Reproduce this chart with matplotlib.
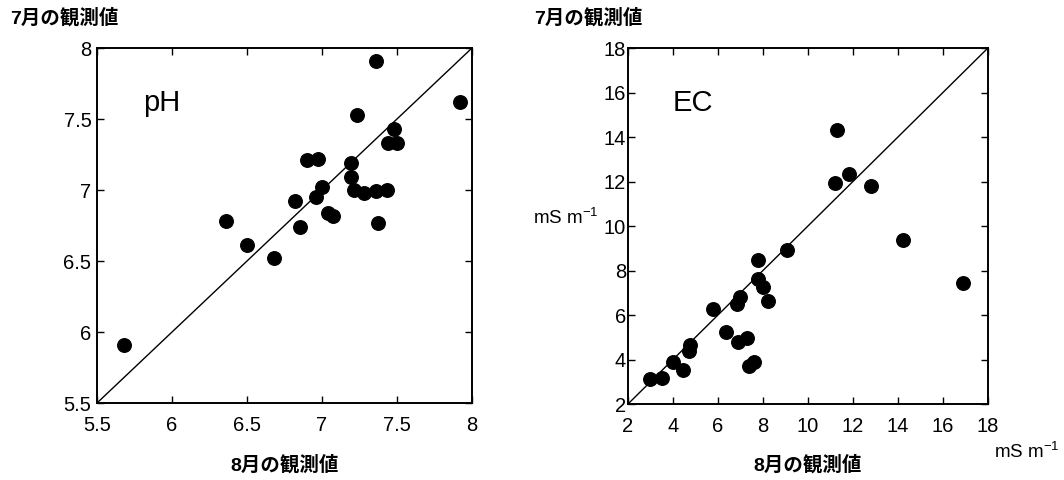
import matplotlib

matplotlib.use("Agg")
import matplotlib.pyplot as plt
import matplotlib.transforms as mtransforms

plt.rcParams["font.family"] = ["Liberation Sans", "Noto Sans CJK JP", "DejaVu Sans"]
plt.rcParams["mathtext.fontset"] = "custom"
plt.rcParams["mathtext.rm"] = "Liberation Sans"

# pH: August (x) vs July (y)
ph_aug = [5.68, 6.36, 6.50, 6.68, 6.82, 6.85, 6.90, 6.97, 6.96, 7.00, 7.04, 7.07,
          7.19, 7.19, 7.21, 7.23, 7.28, 7.36, 7.36, 7.37, 7.43, 7.44, 7.48, 7.50, 7.92]
ph_jul = [5.91, 6.78, 6.61, 6.52, 6.92, 6.74, 7.21, 7.22, 6.95, 7.02, 6.84, 6.82,
          7.19, 7.09, 7.00, 7.53, 6.98, 7.91, 6.99, 6.77, 7.00, 7.33, 7.43, 7.33, 7.62]

# EC (mS m-1): August (x) vs July (y)
ec_aug = [2.99, 3.51, 4.01, 4.46, 4.70, 4.74, 5.78, 6.37, 6.84, 6.96, 6.90, 7.30,
          7.36, 7.59, 7.79, 7.79, 8.01, 8.24, 9.05, 11.19, 11.29, 11.81, 12.81, 14.24, 16.89]
ec_jul = [3.12, 3.19, 3.87, 3.52, 4.39, 4.65, 6.25, 5.25, 6.49, 6.82, 4.77, 4.95,
          3.70, 3.87, 8.45, 7.60, 7.27, 6.64, 8.91, 11.94, 14.30, 12.34, 11.80, 9.38, 7.42]

ph_ticks = [5.5, 6, 6.5, 7, 7.5, 8]
ph_ticklabels = ["5.5", "6", "6.5", "7", "7.5", "8"]
ec_ticks = [2, 4, 6, 8, 10, 12, 14, 16, 18]

label_jul = "7月の観測値"
label_aug = "8月の観測値"
unit = "mS m$^{-1}$"

fig = plt.figure(figsize=(10.64, 4.8), dpi=100)
ax1 = fig.add_axes([0.0912, 0.1604, 0.3524, 0.7396])
ax2 = fig.add_axes([0.5902, 0.1583, 0.3383, 0.7417])


def style(ax, lo, hi, ticks, labels, ypad):
    ax.plot([lo, hi], [lo, hi], color="black", lw=1.0, zorder=1)
    ax.set_xlim(lo, hi)
    ax.set_ylim(lo, hi)
    ax.set_xticks(ticks)
    ax.set_yticks(ticks)
    ax.set_xticklabels(labels)
    ax.set_yticklabels(labels)
    ax.tick_params(direction="in", length=5, width=1.0, labelsize=14.5,
                   top=True, right=True)
    ax.tick_params(axis="x", pad=9)
    ax.tick_params(axis="y", pad=ypad)
    for sp in ax.spines.values():
        sp.set_linewidth(1.4)


ax1.scatter(ph_aug, ph_jul, s=95, color="black", zorder=3)
style(ax1, 5.5, 8, ph_ticks, ph_ticklabels, 4)
ax1.text(0.123, 0.845, "pH", transform=ax1.transAxes, fontsize=21,
         ha="left", va="center")
ax1.text(0.5, -0.175, label_aug, transform=ax1.transAxes, fontsize=14,
         fontweight="bold", ha="center", va="center")

ax2.scatter(ec_aug, ec_jul, s=95, color="black", zorder=3)
style(ax2, 2, 18, ec_ticks, [str(t) for t in ec_ticks], 1.5)
ax2.text(0.125, 0.845, "EC", transform=ax2.transAxes, fontsize=21,
         ha="left", va="center")
ax2.text(0.5, -0.171, label_aug, transform=ax2.transAxes, fontsize=14,
         fontweight="bold", ha="center", va="center")
blend = mtransforms.blended_transform_factory(ax2.transAxes, ax2.transData)
ax2.text(-0.083, 10.4, unit, transform=blend, fontsize=13.5, ha="right", va="center")
ax2.text(1.2, -0.135, unit, transform=ax2.transAxes, fontsize=13.5,
         ha="right", va="center")

fig.text(10 / 1064, 1 - 18 / 480, label_jul, fontsize=14, fontweight="bold",
         ha="left", va="center")
fig.text(534 / 1064, 1 - 18 / 480, label_jul, fontsize=14, fontweight="bold",
         ha="left", va="center")

fig.savefig("out.png", dpi=100)
plt.close(fig)
